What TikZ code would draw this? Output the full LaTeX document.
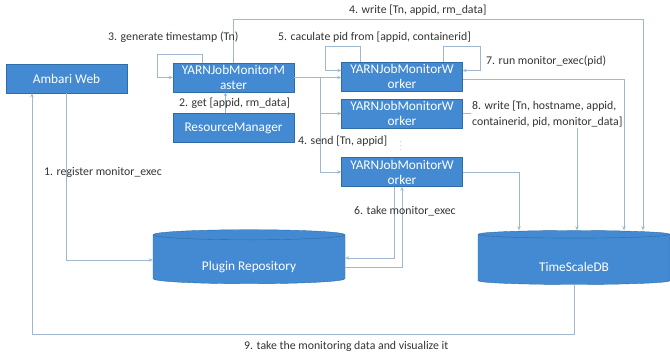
\documentclass[tikz,border=0pt]{standalone}
\usepackage{fontspec}
\setmainfont{Carlito}
\usetikzlibrary{arrows.meta,shapes.geometric}

\definecolor{boxblue}{HTML}{438AD2}
\definecolor{boxline}{HTML}{2E6DA8}
\definecolor{linkgray}{HTML}{9FB8CF}
\definecolor{labelgray}{HTML}{333333}

\begin{document}
\begin{tikzpicture}[x=1pt,y=-1pt,
  block/.style={draw=boxline,fill=boxblue,text=white,minimum width=121pt,
    minimum height=29pt,inner sep=1pt,align=center,font=\fontsize{13.3}{15}\selectfont},
  store/.style={cylinder,shape border rotate=90,aspect=0.1,draw=boxline,
    fill=boxblue,text=white,minimum width=192pt,minimum height=54pt,
    text height=24pt,font=\fontsize{13.3}{15}\selectfont},
  link/.style={draw=linkgray,line width=0.8pt,-{Stealth[length=4pt,width=3.5pt]}},
  tag/.style={text=labelgray,anchor=west,inner sep=1pt,align=left,
    font=\fontsize{11.8}{16}\selectfont}]
  \useasboundingbox (0,0) rectangle (670,356);
  % boxes and stores
  \node[block] (ambari) at (66.5,78.5) {Ambari Web};
  \node[block] (master) at (233.5,77.5) {YARNJobMonitorM\\aster};
  \node[block] (rm) at (233.5,128) {ResourceManager};
  \node[block] (w1) at (402,76.5) {YARNJobMonitorW\\orker};
  \node[block] (w2) at (402,113.5) {YARNJobMonitorW\\orker};
  \node[block] (w3) at (402,172) {YARNJobMonitorW\\orker};
  \node[store] (plugin) at (249,260) {Plugin Repository};
  \node[store] (ts) at (574,260) {TimeScaleDB};
  % connectors
  \draw[link] (ambari.south) |- (plugin.west);
  \draw[link] (ts.south) -- ++(0,50) -| ([xshift=-34.5pt]ambari.south);
  \draw[link] ([xshift=-31.5pt]master.north) |- ++(-45,-8) |- (master.west);
  \draw[link] ([xshift=-8pt]rm.north) -- ([xshift=-8pt]master.south);
  \draw[link] (master.north) -- ++(0,-43) -| ([xshift=69pt]ts.north);
  \draw[link] (master.east) -- (master.east -| w1.west);
  \draw[link] (master.east) -- ++(26,0) coordinate (split) |- (w2.west);
  \draw[link] (split) |- (w3.west);
  \draw[link] ([xshift=-42pt]w1.north) |- ++(-35,-15) |- ([yshift=6pt]w1.west);
  \draw[link] ([xshift=41pt]w1.north) |- ++(37,-15) |- ([yshift=6pt]w1.east);
  \draw[link] ([yshift=-2.5pt]w1.east) -| ([xshift=50pt]ts.north);
  \draw[link] (w2.east) -| ([xshift=3pt]ts.north);
  \draw[link] (w3.east) -| ([xshift=-55pt]ts.north);
  \draw[link] ([xshift=-8pt]w3.south) |- ([yshift=2pt]plugin.east);
  \draw[link] ([yshift=-7pt]plugin.east) -| (w3.south);
  % labels
  \node[tag] (t1) at (43,172) {1. register monitor\_exec};
  \node[tag] (t2) at (178,103) {2. get [appid, rm\_data]};
  \node[tag] (t3) at (107,37) {3. generate timestamp (Tn)};
  \node[tag] (t4) at (348,10) {4. write [Tn, appid, rm\_data]};
  \node[tag] (t4s) at (297,141) {4. send [Tn, appid]};
  \node[tag] (t5) at (277,37) {5. caculate pid from [appid, containerid]};
  \node[tag] (t6) at (353,211) {6. take monitor\_exec};
  \node[tag] (t7) at (485,61) {7. run monitor\_exec(pid)};
  \node[tag,fill=white] (t8) at (471,114) {8. write [Tn, hostname, appid,\\containerid, pid, monitor\_data]};
  \node[tag] (t9) at (243,346) {9. take the monitoring data and visualize it};
  \node[text=labelgray,font=\tiny] (more) at (401,143) {$\vdots$};
\end{tikzpicture}
\end{document}
